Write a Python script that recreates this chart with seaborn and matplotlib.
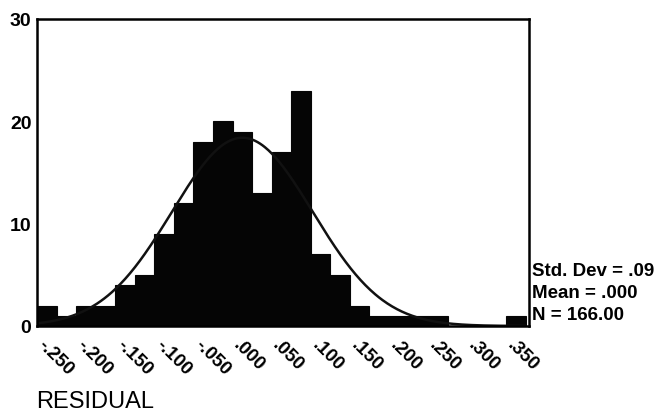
import numpy as np
import pandas as pd
import matplotlib
matplotlib.use("Agg")
import matplotlib.pyplot as plt
import seaborn as sns

# ---- data ----
bin_centers = [-0.250, -0.225, -0.200, -0.175, -0.150, -0.125, -0.100, -0.075,
               -0.050, -0.025, 0.000, 0.025, 0.050, 0.075, 0.100, 0.125,
               0.150, 0.175, 0.200, 0.225, 0.250, 0.275, 0.300, 0.325, 0.350]
counts = [2, 1, 2, 2, 4, 5, 9, 12, 18, 20, 19, 13, 17, 23, 7, 5,
          2, 1, 1, 1, 1, 0, 0, 0, 1]
bin_width = 0.025
std_dev = 0.09
mean = 0.0
n_total = 166

xtick_values = [-0.25, -0.20, -0.15, -0.10, -0.05, 0.0, 0.05, 0.10, 0.15, 0.20, 0.25, 0.30, 0.35]
xtick_labels = ["-.250", "-.200", "-.150", "-.100", "-.050", ".000", ".050",
                ".100", ".150", ".200", ".250", ".300", ".350"]
ytick_values = [0, 10, 20, 30]
ytick_labels = ["0", "10", "20", "30"]
stats_lines = ["Std. Dev = .09", "Mean = .000", "N = 166.00"]
x_title = "RESIDUAL"

sns.set_style("white")
plt.rcParams["font.family"] = ["Liberation Sans", "DejaVu Sans"]
plt.rcParams["text.color"] = "black"
plt.rcParams["xtick.color"] = "black"
plt.rcParams["ytick.color"] = "black"

fig = plt.figure(figsize=(6.57, 4.14), dpi=100)
ax = fig.add_axes([37 / 657, 1 - 327 / 414, (529 - 37) / 657, (327 - 20) / 414])

df = pd.DataFrame({"residual": bin_centers, "count": counts})
edges = [bin_centers[0] - bin_width / 2] + [c + bin_width / 2 for c in bin_centers]
sns.histplot(data=df, x="residual", weights="count", bins=edges, ax=ax,
             color="#050505", edgecolor="#050505", linewidth=0.8, alpha=1.0)

# fitted normal curve from the reported statistics
xs = np.linspace(edges[0], edges[-1], 400)
ys = n_total * bin_width / (std_dev * np.sqrt(2 * np.pi)) * np.exp(-0.5 * ((xs - mean) / std_dev) ** 2)
sns.lineplot(x=xs, y=ys, ax=ax, color="#111111", linewidth=1.8)

ax.set_xlim(edges[0], edges[-1] + 0.004)
ax.set_ylim(0, 30)
ax.set_xticks(xtick_values)
ax.set_xticklabels(xtick_labels, rotation=-45, ha="left", va="top",
                   rotation_mode="anchor", fontsize=13.5, fontweight="bold")
ax.set_yticks(ytick_values)
ax.set_yticklabels(ytick_labels, fontsize=14, fontweight="bold")
ax.tick_params(axis="both", direction="out", length=3, width=2.5,
               color="black", labelcolor="black", pad=1)
ax.tick_params(axis="x", pad=4)
ax.set_xlabel("")
ax.set_ylabel("")
for s in ax.spines.values():
    s.set_visible(True)
    s.set_color("black")
    s.set_linewidth(1.8)

for i, line in enumerate(stats_lines):
    fig.text(532 / 657, 1 - (272 + 22 * i) / 414, line, ha="left", va="center",
             fontsize=13.5, fontweight="bold", color="black")

fig.text(36 / 657, 1 - 402 / 414, x_title, ha="left", va="center", fontsize=17,
         color="black")

fig.savefig("out.png", dpi=100)
